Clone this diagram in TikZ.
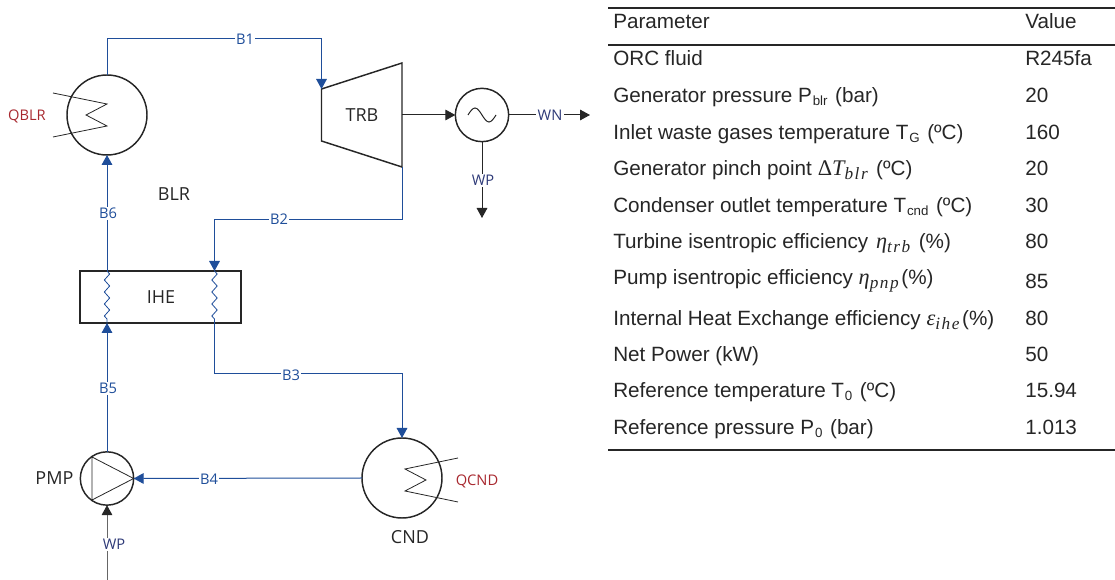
\documentclass[tikz,border=0pt]{standalone}
\usepackage{fontspec}
\setmainfont{Liberation Sans}
\newfontfamily\diagfont{Open Sans}
\newfontfamily\varfont[Scale=1.08]{Liberation Serif}
\usetikzlibrary{
    positioning,
    arrows.meta,
    decorations.pathmorphing,
    calc
}
\definecolor{flowblue}{HTML}{1F4E9A}
\definecolor{heatred}{HTML}{A8282F}
\definecolor{worknavy}{HTML}{2E3A78}
\definecolor{equipblack}{HTML}{262626}
\newcommand{\lowsub}[1]{\kern0.6pt\raisebox{-1.6pt}{\fontsize{10}{10}\selectfont #1}\kern1.4pt\relax}
\newcommand{\varsub}[2]{{\varfont\itshape #1\raisebox{-3pt}{\fontsize{12}{12}\selectfont\addfontfeature{LetterSpace=9} #2}\kern2pt\relax}}

\begin{document}
\begin{tikzpicture}[
    x=0.75pt, y=-0.75pt,
    % Node styles
    vessel/.style={circle, draw=equipblack, line width=1.1pt, inner sep=0pt, outer sep=0pt, minimum size=60pt},
    rotary/.style={circle, draw=equipblack, line width=1.1pt, inner sep=0pt, outer sep=0pt, minimum size=40pt},
    exchanger/.style={rectangle, draw=equipblack, line width=1.1pt, inner sep=0pt, outer sep=0pt, minimum width=120.75pt, minimum height=39pt},
    tag/.style={font=\diagfont\fontsize{13.5}{13.5}\selectfont, text=equipblack, inner sep=0pt},
    flow_tag/.style={font=\diagfont\fontsize{11}{11}\selectfont, text=flowblue, fill=white, inner sep=1pt},
    work_tag/.style={font=\diagfont\fontsize{11}{11}\selectfont, text=worknavy, fill=white, inner sep=1pt},
    heat_tag/.style={font=\diagfont\fontsize{11}{11}\selectfont, text=heatred, inner sep=0pt},
    cell/.style={anchor=base west, inner sep=0pt, font=\fontsize{15.5}{15.5}\selectfont, text=equipblack},
    % Line styles
    flow/.style={flowblue, line width=0.75pt},
    flow_arrow/.style={flow, -{Triangle[length=7.5pt,width=8pt]}},
    work_arrow/.style={equipblack, line width=0.75pt, -{Triangle[length=7.5pt,width=8pt]}},
    coil/.style={equipblack, line width=0.6pt},
    hx_path/.style={flowblue, line width=0.6pt, decorate, decoration={zigzag, segment length=9pt, amplitude=2pt}},
    tablerule/.style={equipblack, line width=1.1pt}
]
\useasboundingbox (0,0) rectangle (1115,580);

% --- Equipment ---
\node[vessel] (blr) at (107,115) {};
\node[vessel] (cnd) at (402,478) {};
\node[rotary] (gen) at (482,115) {};
\node[rotary] (pmp) at (107,478.5) {};
\node[exchanger] (ihe) at (160.5,297) {};

\coordinate (trb_in) at (321.5,89);
\coordinate (trb_top) at (402,63);
\coordinate (trb_bot) at (402,167);
\coordinate (trb_low) at (321.5,141);
\coordinate (trb_out) at (402,115);
\draw[equipblack, line width=1.1pt] (trb_in) -- (trb_top) -- (trb_bot) -- (trb_low) -- cycle;

\coordinate (cold_top) at (107,271);
\coordinate (cold_bot) at (107,323);
\coordinate (hot_top) at (214.5,271);
\coordinate (hot_bot) at (214.5,323);
\coordinate (wn_end) at (590,115);
\coordinate (wp_end) at (482,218);
\coordinate (wp_start) at (107,580);

% --- Equipment symbols ---
\draw[coil] ($(blr)+(-54,-22)$) -- ($(blr)+(0,-11)$) -- ($(blr)+(-21,0)$) -- ($(blr)+(0,11)$) -- ($(blr)+(-54,22)$);
\draw[coil] ($(cnd)+(56,-20)$) -- ($(cnd)+(3,-9)$) -- ($(cnd)+(24,2)$) -- ($(cnd)+(3,13)$) -- ($(cnd)+(56,24)$);
\draw[coil] ($(pmp)+(-15,-21.5)$) -- (pmp.east) -- ($(pmp)+(-15,21.5)$) -- cycle;
\draw[coil, line width=0.75pt] ($(gen)+(-14,0)$) sin ++(7,-7) cos ++(7,7) sin ++(7,7) cos ++(7,-7);
\draw[hx_path] (cold_top) -- (cold_bot);
\draw[hx_path] (hot_top) -- (hot_bot);

% --- Cycle streams ---
\draw[flow_arrow] (blr.north) -- ++(0,-36) -| (trb_in);
\draw[flow_arrow] (trb_bot) -- ++(0,52.5) -| (hot_top);
\draw[flow_arrow] (hot_bot) -- ++(0,51) -| (cnd.north);
\draw[flow_arrow] (cnd.west) -- (pmp.east);
\draw[flow_arrow] (pmp.north) -- (cold_bot);
\draw[flow_arrow] (cold_top) -- (blr.south);

% --- Work lines ---
\draw[work_arrow] (trb_out) -- (gen.west);
\draw[work_arrow] (gen.east) -- (wn_end);
\draw[work_arrow] (gen.south) -- (wp_end);
\draw[draw=black!60, line width=0.75pt, -{Triangle[length=7.5pt,width=8pt,color=equipblack]}] (wp_start) -- (pmp.south);

% --- Stream labels ---
\node[flow_tag] (b1) at (245,39.5) {B1};
\node[flow_tag] (b2) at (279,219.5) {B2};
\node[flow_tag] (b3) at (291,375) {B3};
\node[flow_tag] (b4) at (209,479.5) {B4};
\node[flow_tag] (b5) at (108,388.5) {B5};
\node[flow_tag] (b6) at (108,213.5) {B6};
\node[work_tag] (wn) at (550,115.5) {WN};
\node[work_tag] (wp_out) at (483,180.5) {WP};
\node[work_tag] (wp_in) at (114,544.5) {WP};
\node[heat_tag] (qblr) at (27,116.5) {QBLR};
\node[heat_tag] (qcnd) at (477,481.5) {QCND};

% --- Equipment labels ---
\node[tag] (blr_tag) at (174,194.5) {BLR};
\node[tag] (trb) at (362,115.5) {TRB};
\node[tag] (ihe_tag) at (161,297.5) {IHE};
\node[tag] (pmp_tag) [left=5pt of pmp] {PMP};
\node[tag] (cnd_tag) at (410,537.5) {CND};

% --- Parameter table ---
\draw[tablerule] (608,8) -- (1115,8);
\draw[tablerule] (608,45) -- (1115,45);
\draw[tablerule] (608,450) -- (1115,450);

\node[cell] (par_head) at (613,29) {Parameter};
\node[cell] (par_fluid) at (613,66) {ORC fluid};
\node[cell] (par_pblr) at (613,103) {Generator pressure P\lowsub{blr} (bar)};
\node[cell] (par_tg) at (613,140) {Inlet waste gases temperature T\lowsub{G} (ºC)};
\node[cell] (par_pinch) at (613,176) {Generator pinch point {\varfont Δ}\varsub{T}{blr} (ºC)};
\node[cell] (par_tcnd) at (613,213) {Condenser outlet temperature T\lowsub{cnd} (ºC)};
\node[cell] (par_trb) at (613,249) {Turbine isentropic efficiency \kern1.5pt\varsub{η}{trb} (\%)};
\node[cell] (par_pnp) at (613,285) {Pump isentropic efficiency \varsub{η}{pnp}(\%)};
\node[cell] (par_ihe) at (613,326) {Internal Heat Exchange efficiency \varsub{ε}{ihe}(\%)};
\node[cell] (par_net) at (613,362) {Net Power (kW)};
\node[cell] (par_t0) at (613,398) {Reference temperature T\lowsub{0} (ºC)};
\node[cell] (par_p0) at (613,435) {Reference pressure P\lowsub{0} (bar)};

\node[cell] (val_head) at (1025,29) {Value};
\node[cell] (val_fluid) at (1025,66) {R245fa};
\node[cell] (val_pblr) at (1025,103) {20};
\node[cell] (val_tg) at (1025,140) {160};
\node[cell] (val_pinch) at (1025,176) {20};
\node[cell] (val_tcnd) at (1025,213) {30};
\node[cell] (val_trb) at (1025,249) {80};
\node[cell] (val_pnp) at (1025,289) {85};
\node[cell] (val_ihe) at (1025,326) {80};
\node[cell] (val_net) at (1025,362) {50};
\node[cell] (val_t0) at (1025,398) {15.94};
\node[cell] (val_p0) at (1025,435) {1.013};

\end{tikzpicture}
\end{document}
